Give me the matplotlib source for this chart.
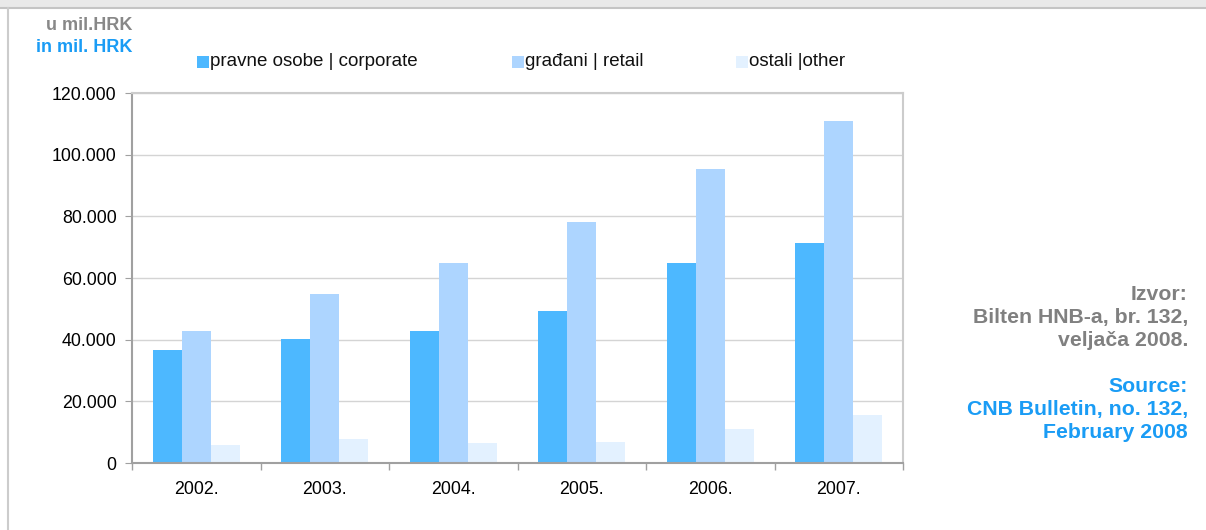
import matplotlib.pyplot as plt
import numpy as np
from matplotlib.patches import Rectangle
from matplotlib.lines import Line2D
from matplotlib.ticker import FuncFormatter, MultipleLocator

plt.rcParams['font.family'] = ['Liberation Sans', 'DejaVu Sans']

# podaci u mil. HRK
godine = ['2002.', '2003.', '2004.', '2005.', '2006.', '2007.']
pravne_osobe = [36600, 40200, 42800, 49300, 64900, 71300]
gradjani = [42800, 54800, 64900, 78200, 95300, 110900]
ostali = [5800, 7800, 6500, 6800, 11000, 15600]
serije = ['pravne osobe | corporate', 'građani | retail', 'ostali |other']
boje = ['#4db8ff', '#add5ff', '#e3f1ff']

W, H = 1206, 530
fig = plt.figure(figsize=(W / 100, H / 100), dpi=100)

# okvir gore i lijevo
fig.patches.append(Rectangle((0, 1 - 8 / H), 1, 8 / H, transform=fig.transFigure,
                             facecolor='#e9e9e9', edgecolor='none'))
fig.lines.append(Line2D([0, 1], [1 - 8 / H, 1 - 8 / H], transform=fig.transFigure,
                        color='#c4c4c4', lw=1.5))
fig.lines.append(Line2D([8 / W, 8 / W], [0, 1 - 8 / H], transform=fig.transFigure,
                        color='#cccccc', lw=1.5))

ax = fig.add_axes([132 / W, 1 - 463 / H, (903 - 132) / W, (463 - 93) / H])

x = np.arange(len(godine))
sirina = 0.225
for i, (vals, boja, ime) in enumerate(zip([pravne_osobe, gradjani, ostali], boje, serije)):
    ax.bar(x + (i - 1) * sirina, vals, sirina, color=boja, label=ime, zorder=2)

ax.set_xlim(-0.5, len(godine) - 0.5)
ax.set_ylim(0, 120000)
ax.yaxis.set_major_locator(MultipleLocator(20000))
ax.yaxis.set_major_formatter(FuncFormatter(lambda v, p: f'{int(v):,}'.replace(',', '.')))
ax.grid(axis='y', color='#d4d4d4', lw=1, zorder=0)

ax.set_xticks(x)
ax.set_xticklabels(godine)
ax.set_xticks(np.arange(-0.5, len(godine)), minor=True)
ax.tick_params(axis='x', which='major', length=0, pad=13, labelsize=12.8)
ax.tick_params(axis='x', which='minor', length=5, color='#a0a0a0', width=1)
ax.tick_params(axis='y', length=5, color='#a0a0a0', labelsize=12.8, pad=6)

for s in ['left', 'bottom']:
    ax.spines[s].set_color('#a0a0a0')
    ax.spines[s].set_linewidth(1.5)
for s in ['top', 'right']:
    ax.spines[s].set_color('#cccccc')
    ax.spines[s].set_linewidth(1.5)

# legenda
leg_x = [197, 512, 736]
for lx, boja, ime in zip(leg_x, boje, serije):
    fig.patches.append(Rectangle((lx / W, 1 - 68 / H), 12 / W, 12 / H, transform=fig.transFigure,
                                 facecolor=boja, edgecolor='none'))
    fig.text((lx + 13) / W, 1 - 61 / H, ime, fontsize=13.5, va='center', ha='left', color='#111111')

fig.text(132 / W, 1 - 25 / H, 'u mil.HRK', fontsize=13, fontweight='bold', color='#888888',
         ha='right', va='center')
fig.text(132 / W, 1 - 47 / H, 'in mil. HRK', fontsize=13, fontweight='bold', color='#1a9cf5',
         ha='right', va='center')

izvor = ['Izvor:', 'Bilten HNB-a, br. 132,', 'veljača 2008.']
source = ['Source:', 'CNB Bulletin, no. 132,', 'February 2008']
for k, t in enumerate(izvor):
    fig.text(1188 / W, 1 - (295 + 23 * k) / H, t, fontsize=15.3, fontweight='bold',
             color='#808080', ha='right', va='center')
for k, t in enumerate(source):
    fig.text(1188 / W, 1 - (386 + 23 * k) / H, t, fontsize=15.3, fontweight='bold',
             color='#1a9cf5', ha='right', va='center')

fig.savefig('out.png', dpi=100)
